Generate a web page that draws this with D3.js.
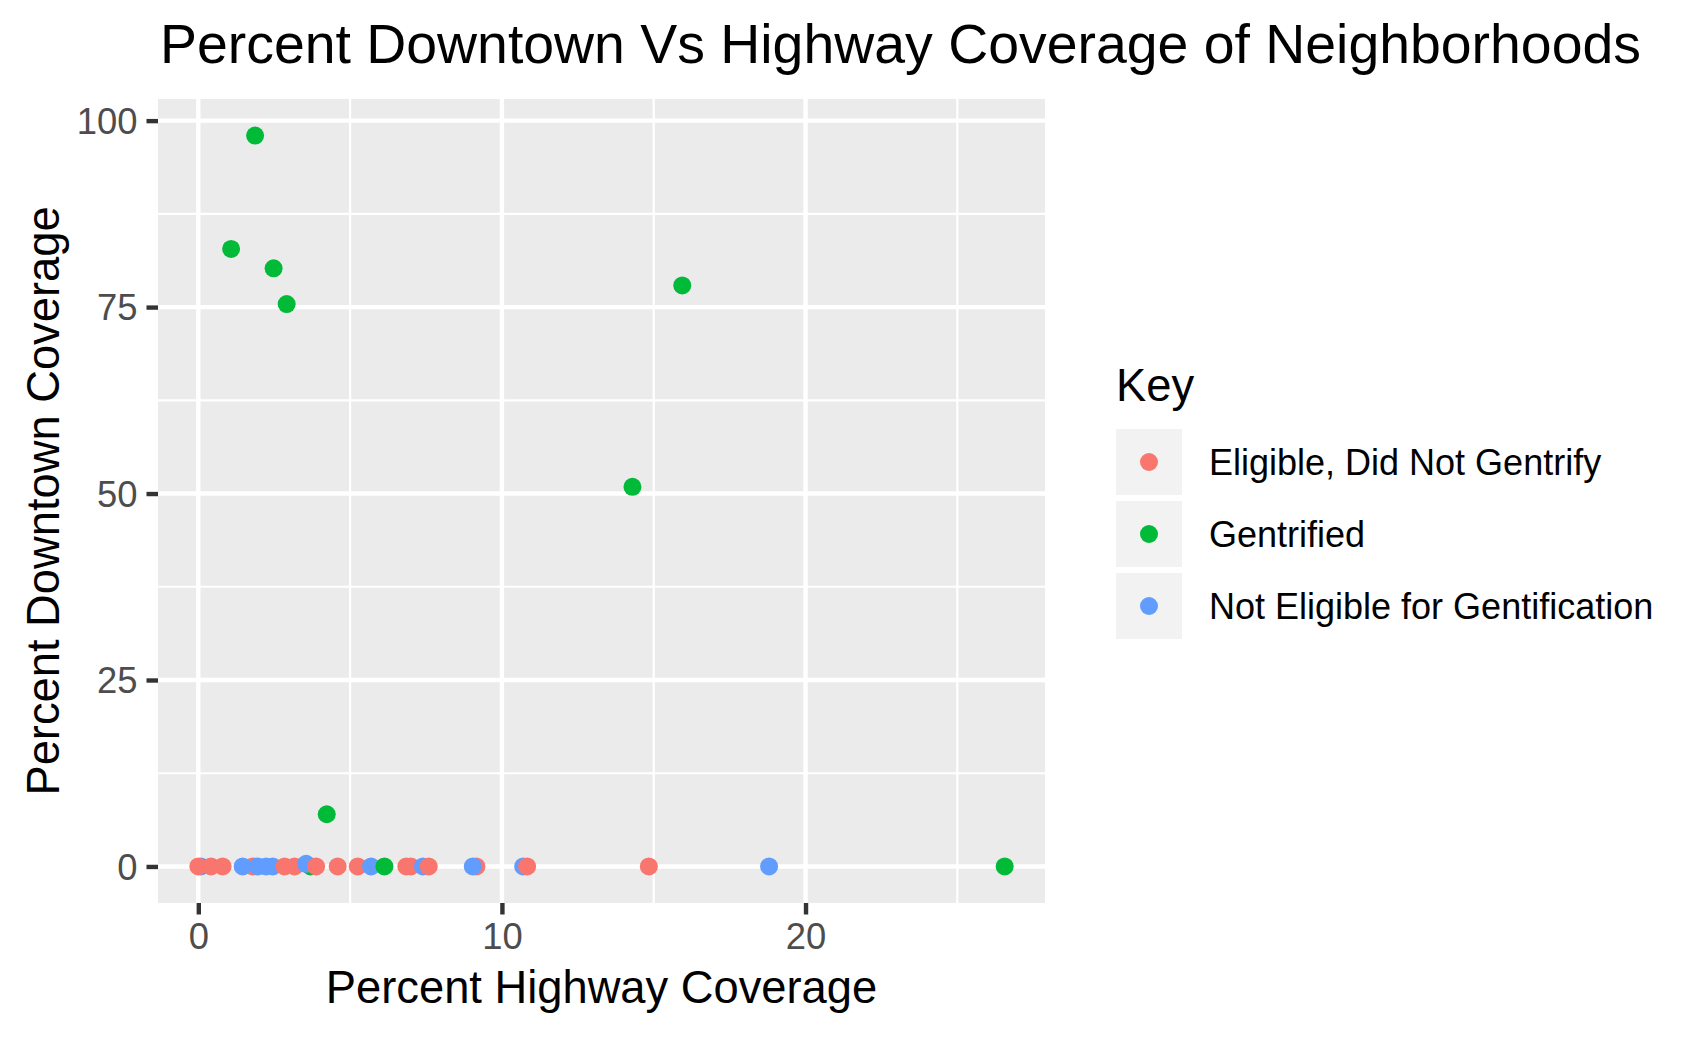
<!DOCTYPE html>
<meta charset="utf-8">
<style>
body { margin: 0; background: white; }
text { font-family: "Liberation Sans", Arial, Helvetica, sans-serif; }
</style>
<body>
<script src="https://d3js.org/d3.v7.min.js"></script>
<script>
// data
var categories = ["Eligible, Did Not Gentrify", "Gentrified", "Not Eligible for Gentification"];
var colors = ["#F8766D", "#00BA38", "#619CFF"];

var highway  = [0.09, 0, 0.42, 0.80, 1.79, 1.46, 1.96, 2.23, 2.45, 2.84, 3.17, 3.70, 3.55, 3.88, 4.59, 5.25,
                5.69, 6.13, 6.85, 7.00, 7.40, 7.59, 9.16, 9.04, 10.70, 10.83, 14.84, 18.80, 26.56,
                1.87, 1.08, 2.48, 2.91, 15.94, 14.30, 4.23];
var downtown = [0, 0, 0, 0, 0, 0, 0, 0, 0, 0, 0, 0, 0.36, 0, 0, 0,
                0, 0, 0, 0, 0, 0, 0, 0, 0, 0, 0, 0, 0,
                98.0, 82.8, 80.2, 75.4, 77.9, 50.9, 7.0];
var group    = [2, 0, 0, 0, 0, 2, 2, 2, 2, 0, 0, 1, 2, 0, 0, 0,
                2, 1, 0, 0, 2, 0, 0, 2, 2, 0, 0, 2, 1,
                1, 1, 1, 1, 1, 1, 1];

var xMajor = [0, 10, 20], xMinor = [5, 15, 25];
var yMajor = [0, 25, 50, 75, 100], yMinor = [12.5, 37.5, 62.5, 87.5];

var width = 1699, height = 1037;
var panel = {left: 158, right: 1045, top: 99, bottom: 903};

var svg = d3.select("body").append("svg")
    .attr("width", width)
    .attr("height", height);

// ggplot-style 5% expansion
var xe = d3.extent(highway), ye = d3.extent(downtown);
var xp = (xe[1] - xe[0]) * 0.05, yp = (ye[1] - ye[0]) * 0.05;

var x = d3.scaleLinear().domain([xe[0] - xp, xe[1] + xp]).range([panel.left, panel.right]);
var y = d3.scaleLinear().domain([ye[0] - yp, ye[1] + yp]).range([panel.bottom, panel.top]);

svg.append("rect")
    .attr("x", panel.left).attr("y", panel.top)
    .attr("width", panel.right - panel.left).attr("height", panel.bottom - panel.top)
    .attr("fill", "#EBEBEB");

var grid = svg.append("g").attr("stroke", "white");
grid.selectAll(".xmin").data(xMinor).enter().append("line")
    .attr("x1", x).attr("x2", x).attr("y1", panel.top).attr("y2", panel.bottom).attr("stroke-width", 2.2);
grid.selectAll(".ymin").data(yMinor).enter().append("line")
    .attr("y1", y).attr("y2", y).attr("x1", panel.left).attr("x2", panel.right).attr("stroke-width", 2.2);
grid.selectAll(".xmaj").data(xMajor).enter().append("line")
    .attr("x1", x).attr("x2", x).attr("y1", panel.top).attr("y2", panel.bottom).attr("stroke-width", 4.4);
grid.selectAll(".ymaj").data(yMajor).enter().append("line")
    .attr("y1", y).attr("y2", y).attr("x1", panel.left).attr("x2", panel.right).attr("stroke-width", 4.4);

// axes
var xAxis = svg.append("g")
    .attr("transform", "translate(0," + panel.bottom + ")")
    .call(d3.axisBottom(x).tickValues(xMajor).tickSize(11.5).tickPadding(9).tickFormat(d3.format("d")));
var yAxis = svg.append("g")
    .attr("transform", "translate(" + panel.left + ",0)")
    .call(d3.axisLeft(y).tickValues(yMajor).tickSize(11.5).tickPadding(9).tickFormat(d3.format("d")));

[xAxis, yAxis].forEach(function(a) {
  a.select(".domain").remove();
  a.selectAll(".tick line").attr("stroke", "#333333").attr("stroke-width", 4.4);
  a.selectAll(".tick text")
    .attr("fill", "#4D4D4D")
    .style("font-size", "36.4px")
    .style("font-family", "'Liberation Sans', Arial, sans-serif");
});
yAxis.selectAll(".tick text").attr("dy", "0.35em");

// points
svg.append("g").selectAll("circle")
    .data(d3.range(highway.length))
    .enter().append("circle")
    .attr("cx", function(i) { return x(highway[i]); })
    .attr("cy", function(i) { return y(downtown[i]); })
    .attr("r", 9)
    .attr("fill", function(i) { return colors[group[i]]; });

// titles
svg.append("text")
    .attr("x", 160).attr("y", 63)
    .style("font-size", "55.4px")
    .text("Percent Downtown Vs Highway Coverage of Neighborhoods");

svg.append("text")
    .attr("x", (panel.left + panel.right) / 2).attr("y", 1003)
    .attr("text-anchor", "middle")
    .style("font-size", "45.3px")
    .text("Percent Highway Coverage");

svg.append("text")
    .attr("transform", "translate(59," + (panel.top + panel.bottom) / 2 + ") rotate(-90)")
    .attr("text-anchor", "middle")
    .style("font-size", "45.3px")
    .text("Percent Downtown Coverage");

// legend
var legend = svg.append("g");
legend.append("text")
    .attr("x", 1116).attr("y", 401)
    .style("font-size", "45.3px")
    .text("Key");

var keys = legend.selectAll(".key").data(categories).enter().append("g")
    .attr("transform", function(d, i) { return "translate(1116," + (429 + i * 72) + ")"; });
keys.append("rect").attr("width", 66).attr("height", 66).attr("fill", "#F2F2F2");
keys.append("circle").attr("cx", 33).attr("cy", 33).attr("r", 9)
    .attr("fill", function(d, i) { return colors[i]; });
keys.append("text")
    .attr("x", 93).attr("y", 33).attr("dy", "0.35em")
    .style("font-size", "36px")
    .text(function(d) { return d; });
</script>
</body>
